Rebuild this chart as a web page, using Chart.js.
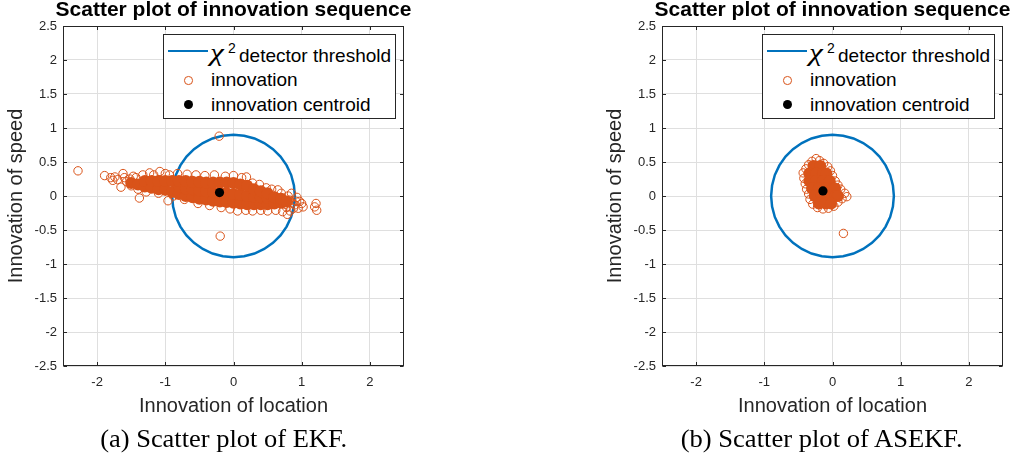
<!DOCTYPE html>
<html><head><meta charset="utf-8">
<script src="https://cdn.jsdelivr.net/npm/chart.js@4.4.1/dist/chart.umd.min.js"></script>
<style>
html,body{margin:0;padding:0;background:#fff;width:1019px;height:467px;overflow:hidden;position:relative;}
.panel{position:absolute;top:0;width:420px;height:467px;}
.panel canvas{position:absolute;left:0;top:0;}
.abs{position:absolute;white-space:nowrap;}
.title{left:0;width:467px;text-align:center;top:-2.3px;font:bold 21px/21px "Liberation Sans",Arial,sans-serif;color:#000;}
.legend{left:163px;top:34px;width:233px;height:85px;box-sizing:border-box;border:1px solid #262626;background:#fff;}
.ltxt{font:19px/19px "Liberation Sans",Arial,sans-serif;color:#000;}
.chi{font:italic 25px/25px "Liberation Serif","Times New Roman",serif;color:#000;transform-origin:left center;transform:scaleX(1.25);}
.sup{font:14px/14px "Liberation Sans",Arial,sans-serif;color:#000;}
.caption{font:25px/25px "Liberation Serif","Times New Roman",serif;color:#000;transform-origin:center center;}
</style>
</head><body>
<script>
// ---- data ----
const xTickValues = [-2, -1, 0, 1, 2];
const yTickValues = [-2.5, -2, -1.5, -1, -0.5, 0, 0.5, 1, 1.5, 2, 2.5];
const titleText = 'Scatter plot of innovation sequence';
const xLabel = 'Innovation of location';
const yLabel = 'Innovation of speed';
const legendLabels = ['detector threshold', 'innovation', 'innovation centroid'];
const captions = ['(a) Scatter plot of EKF.', '(b) Scatter plot of ASEKF.'];

// chi-square detector threshold (circle, radius ~0.9)
const thresholdX = [0.9,0.886,0.846,0.779,0.689,0.579,0.45,0.308,0.156,0,-0.156,-0.308,-0.45,-0.579,-0.689,-0.779,-0.846,-0.886,-0.9,-0.886,-0.846,-0.779,-0.689,-0.579,-0.45,-0.308,-0.156,0,0.156,0.308,0.45,0.579,0.689,0.779,0.846,0.886,0.9];
const thresholdY = [0,0.156,0.308,0.45,0.579,0.689,0.779,0.846,0.886,0.9,0.886,0.846,0.779,0.689,0.579,0.45,0.308,0.156,0,-0.156,-0.308,-0.45,-0.579,-0.689,-0.779,-0.846,-0.886,-0.9,-0.886,-0.846,-0.779,-0.689,-0.579,-0.45,-0.308,-0.156,0];

// EKF innovation (individual points around the cloud edge and outliers)
const ekfInnovX = [-2.28,-1.89,-1.80,-1.77,-1.74,-1.70,-1.65,-1.62,-1.60,-1.57,-1.52,-1.50,-1.47,-1.43,-1.40,-1.38,-1.33,-1.28,-1.23,-1.17,-1.10,-1.08,-1.00,-0.96,-0.94,-0.88,-0.82,-0.72,-0.68,-0.55,-0.52,-0.42,-0.35,-0.28,-0.18,-0.12,-0.05,0.00,0.06,0.12,0.19,0.18,0.28,0.28,0.38,0.40,0.50,0.48,0.56,0.62,0.65,0.72,0.70,0.76,0.79,0.80,0.85,0.86,0.88,0.92,0.97,1.02,1.00,1.19,1.21,1.22,-0.21,-0.195,0.74,0.78,0.82,0.83,0.90,0.93,0.95];
const ekfInnovY = [0.37,0.30,0.27,0.23,0.28,0.24,0.13,0.33,0.27,0.21,0.25,0.15,0.29,0.27,0.10,-0.03,0.31,0.06,0.34,0.31,0.04,0.36,0.33,-0.07,0.31,0.00,0.33,-0.05,0.32,0.31,-0.11,0.30,-0.14,0.31,-0.17,0.29,-0.19,0.30,-0.22,0.27,0.28,-0.21,-0.22,0.19,0.17,-0.21,-0.22,0.12,0.10,-0.21,0.09,-0.23,0.04,-0.12,-0.27,0.00,0.04,-0.10,-0.18,-0.08,-0.08,-0.16,-0.11,-0.16,-0.11,-0.21,0.88,-0.59,-0.06,-0.17,-0.06,-0.22,-0.13,-0.02,-0.18];
// EKF dense core of the cloud
const ekfCoreX = [-1.5,-1.4,-1.3,-1.3,-1.2,-1.2,-1.1,-1.1,-1.0,-1.0,-0.9,-0.9,-0.8,-0.8,-0.8,-0.7,-0.7,-0.7,-0.6,-0.6,-0.6,-0.5,-0.5,-0.5,-0.4,-0.4,-0.4,-0.3,-0.3,-0.3,-0.2,-0.2,-0.2,-0.1,-0.1,-0.1,0,0,0,0.1,0.1,0.1,0.2,0.2,0.2,0.3,0.3,0.3,0.4,0.4,0.4,0.5,0.5,0.5,0.6,0.6,0.7,0.7,0.78];
const ekfCoreY = [0.19,0.17,0.14,0.22,0.12,0.22,0.10,0.22,0.09,0.22,0.06,0.22,0.03,0.14,0.22,0.00,0.11,0.22,-0.02,0.10,0.21,-0.04,0.08,0.21,-0.05,0.07,0.20,-0.07,0.06,0.20,-0.08,0.05,0.20,-0.09,0.04,0.20,-0.10,0.03,0.19,-0.11,0.02,0.17,-0.12,0.00,0.15,-0.12,-0.01,0.10,-0.12,-0.02,0.07,-0.12,-0.03,0.04,-0.11,-0.02,-0.10,-0.04,-0.08];
const ekfCentroidX = [-0.205];
const ekfCentroidY = [0.05];

// ASEKF innovation
const asekfInnovX = [-0.24,-0.30,-0.19,-0.35,-0.39,-0.43,-0.42,-0.40,-0.38,-0.35,-0.33,-0.29,-0.22,-0.14,-0.06,0.02,0.08,0.14,0.21,0.18,0.12,0.08,0.04,0.00,-0.03,-0.07,-0.13,0.16];
const asekfInnovY = [0.55,0.51,0.52,0.46,0.40,0.34,0.26,0.18,0.10,0.03,-0.05,-0.12,-0.17,-0.19,-0.18,-0.15,-0.09,-0.04,-0.01,0.04,0.10,0.16,0.22,0.30,0.37,0.43,0.48,-0.55];
const asekfCoreX = [-0.28,-0.18,-0.34,-0.24,-0.14,-0.09,-0.34,-0.24,-0.14,-0.04,-0.30,-0.20,-0.10,0.00,0.04,-0.26,-0.16,-0.06,0.04,0.08,-0.20,-0.10,-0.02];
const asekfCoreY = [0.44,0.44,0.33,0.33,0.33,0.33,0.22,0.22,0.22,0.22,0.11,0.11,0.11,0.11,0.11,0,0,0,0,0,-0.11,-0.11,-0.11];
const asekfCentroidX = [-0.14];
const asekfCentroidY = [0.074];

// ---- drawing ----
const BLUE = '#0072BD', ORANGE = '#D95319', AXIS = '#262626', GRID = '#dfdfdf';
const FONT = '"Liberation Sans", Arial, sans-serif';
const pts = (xs, ys) => xs.map((x, i) => ({x: x, y: ys[i]}));

const boxPlugin = {
  id: 'matlabBox',
  afterDraw(chart) {
    const {ctx, chartArea: a, scales} = chart;
    const sx = scales.x, sy = scales.y;
    ctx.save();
    ctx.strokeStyle = AXIS;
    ctx.lineWidth = 1;
    ctx.beginPath();
    const L = Math.round(a.left) + 0.5, R = Math.round(a.right) - 0.5;
    const T = Math.round(a.top) + 0.5, B = Math.round(a.bottom) - 0.5;
    xTickValues.forEach(v => {
      const p = Math.round(sx.getPixelForValue(v)) + 0.5;
      ctx.moveTo(p, B); ctx.lineTo(p, B - 3.5);
      ctx.moveTo(p, T); ctx.lineTo(p, T + 3.5);
    });
    yTickValues.forEach(v => {
      const p = Math.round(sy.getPixelForValue(v)) + 0.5;
      ctx.moveTo(L, p); ctx.lineTo(L + 3.5, p);
      ctx.moveTo(R, p); ctx.lineTo(R - 3.5, p);
    });
    ctx.stroke();
    ctx.strokeRect(L, T, R - L, B - T);
    ctx.restore();
  }
};

function el(parent, cls, text, left, top) {
  const e = document.createElement('div');
  e.className = 'abs ' + cls;
  if (text !== null) e.textContent = text;
  if (left !== null) e.style.left = left + 'px';
  if (top !== null) e.style.top = top + 'px';
  parent.appendChild(e);
  return e;
}

function makePanel(offsetX, d, caption, capWidth, capCenter) {
  const panel = document.createElement('div');
  panel.className = 'panel';
  panel.style.left = offsetX + 'px';
  document.body.appendChild(panel);
  const canvas = document.createElement('canvas');
  canvas.width = 420; canvas.height = 467;
  canvas.style.width = '420px'; canvas.style.height = '467px';
  panel.appendChild(canvas);

  new Chart(canvas, {
    type: 'scatter',
    data: {
      datasets: [
        {label: legendLabels[2], data: pts(d.cx, d.cy), pointRadius: 4.6, pointBackgroundColor: '#000', pointBorderColor: '#000', pointBorderWidth: 0},
        {label: legendLabels[1], data: pts(d.ix, d.iy), pointRadius: 4.2, pointBackgroundColor: 'rgba(0,0,0,0)', pointBorderColor: ORANGE, pointBorderWidth: 1},
        {label: 'core', data: pts(d.kx, d.ky), pointRadius: 6, pointBackgroundColor: ORANGE, pointBorderColor: ORANGE, pointBorderWidth: 0},
        {label: legendLabels[0], data: pts(thresholdX, thresholdY), showLine: true, pointRadius: 0, borderColor: BLUE, borderWidth: 2.5, fill: false, tension: 0}
      ]
    },
    options: {
      responsive: false,
      animation: false,
      events: [],
      devicePixelRatio: 1,
      layout: {padding: {top: 26, right: 16, left: 0, bottom: 0}},
      plugins: {legend: {display: false}, tooltip: {enabled: false}, title: {display: false}},
      scales: {
        x: {
          type: 'linear', min: -2.5, max: 2.5,
          afterBuildTicks: s => { s.ticks = xTickValues.map(v => ({value: v})); },
          afterFit: s => { s.height = 101; },
          ticks: {font: {family: FONT, size: 13}, color: AXIS, padding: 9, maxRotation: 0, autoSkip: false, callback: v => String(v)},
          grid: {color: GRID, drawTicks: false, lineWidth: 1},
          border: {display: false},
          title: {display: true, text: xLabel, font: {family: FONT, size: 20}, color: AXIS, padding: {top: 4, bottom: 49}}
        },
        y: {
          type: 'linear', min: -2.5, max: 2.5,
          afterBuildTicks: s => { s.ticks = yTickValues.map(v => ({value: v})); },
          afterFit: s => { s.width = 63; },
          ticks: {font: {family: FONT, size: 13}, color: AXIS, padding: 6, autoSkip: false, callback: v => String(v)},
          grid: {color: GRID, drawTicks: false, lineWidth: 1},
          border: {display: false},
          title: {display: true, text: yLabel, font: {family: FONT, size: 20}, color: AXIS, padding: {top: 4, bottom: 4}}
        }
      }
    },
    plugins: [boxPlugin]
  });

  el(panel, 'title', titleText, null, null);
  el(panel, 'legend', null, null, null);
  const line = el(panel, '', null, 168, 50);
  line.style.width = '40px'; line.style.height = '2.4px'; line.style.background = BLUE;
  el(panel, 'chi', 'χ', 210, 39.5);
  el(panel, 'sup', '2', 228, 41.2);
  el(panel, 'ltxt', legendLabels[0], 239, 45.6);
  const m2 = el(panel, '', null, 184, 76);
  m2.style.cssText += 'width:8.5px;height:8.5px;box-sizing:border-box;border:1px solid ' + ORANGE + ';border-radius:50%;';
  el(panel, 'ltxt', legendLabels[1], 211, 69.9);
  const m3 = el(panel, '', null, 183.5, 99.5);
  m3.style.cssText += 'width:9px;height:9px;background:#000;border-radius:50%;';
  el(panel, 'ltxt', legendLabels[2], 211, 94.6);

  const cap = el(panel, 'caption', caption, 0, 425.8);
  const w = cap.getBoundingClientRect().width;
  cap.style.left = (capCenter - w / 2) + 'px';
  cap.style.transform = 'scaleX(' + (capWidth / w) + ')';
}

makePanel(0, {ix: ekfInnovX, iy: ekfInnovY, kx: ekfCoreX, ky: ekfCoreY, cx: ekfCentroidX, cy: ekfCentroidY}, captions[0], 247, 223.5);
makePanel(599, {ix: asekfInnovX, iy: asekfInnovY, kx: asekfCoreX, ky: asekfCoreY, cx: asekfCentroidX, cy: asekfCentroidY}, captions[1], 282, 223);
</script>
</body></html>
